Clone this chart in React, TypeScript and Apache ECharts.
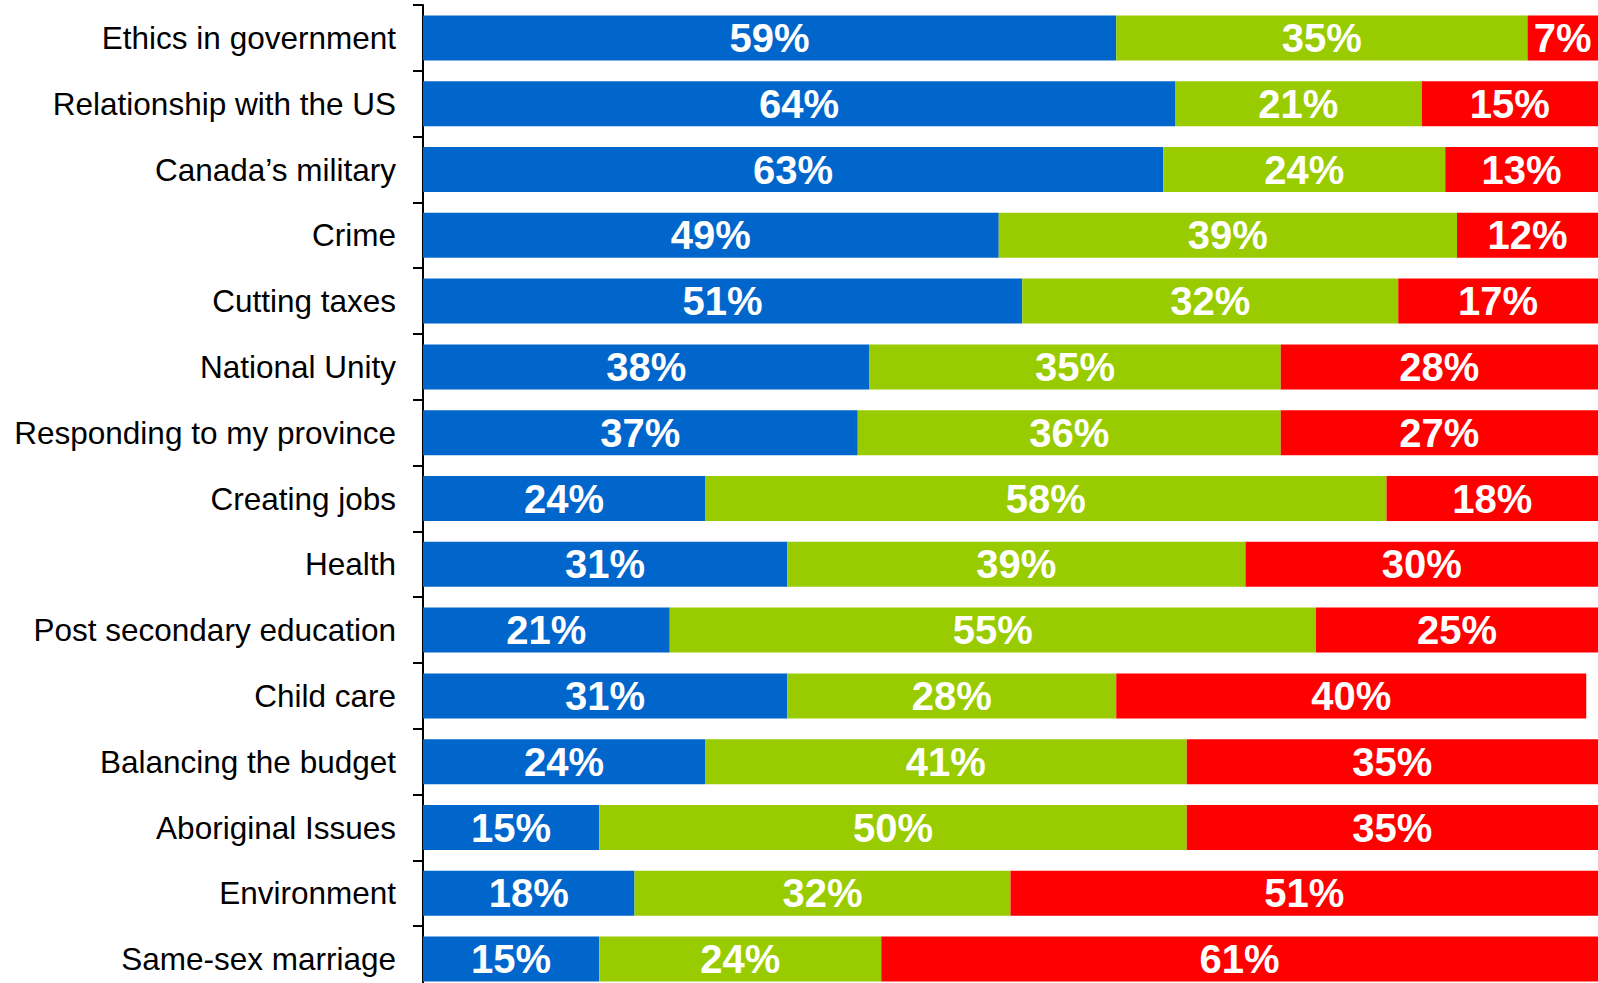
import React, { useEffect, useRef } from "react";
import * as echarts from "echarts";

const categories = [
  "Ethics in government",
  "Relationship with the US",
  "Canada’s military",
  "Crime",
  "Cutting taxes",
  "National Unity",
  "Responding to my province",
  "Creating jobs",
  "Health",
  "Post secondary education",
  "Child care",
  "Balancing the budget",
  "Aboriginal Issues",
  "Environment",
  "Same-sex marriage",
];

const blueValues = [59, 64, 63, 49, 51, 38, 37, 24, 31, 21, 31, 24, 15, 18, 15];
const greenValues = [35, 21, 24, 39, 32, 35, 36, 58, 39, 55, 28, 41, 50, 32, 24];
const redValues = [7, 15, 13, 12, 17, 28, 27, 18, 30, 25, 40, 35, 35, 51, 61];

const FONT = "'Liberation Sans', Arial, Helvetica, sans-serif";

export default function App() {
  const ref = useRef<HTMLDivElement>(null);

  useEffect(() => {
    if (!ref.current) return;
    const chart = echarts.init(ref.current, null, { renderer: "svg" });
    const label = {
      show: true,
      position: "inside",
      formatter: "{c}%",
      color: "#ffffff",
      fontWeight: "bold",
      fontSize: 40,
      fontFamily: FONT,
    };
    chart.setOption({
      animation: false,
      textStyle: { fontFamily: FONT },
      grid: {
        left: 423,
        top: 5,
        width: 1175,
        height: 987,
        containLabel: false,
        outerBoundsMode: "none",
      },
      xAxis: { type: "value", min: 0, max: 100, show: false },
      yAxis: {
        type: "category",
        data: categories,
        inverse: true,
        axisLine: { show: true, lineStyle: { color: "#000", width: 2 } },
        axisTick: { show: true, length: 10, lineStyle: { color: "#000", width: 2 } },
        axisLabel: { color: "#000", fontSize: 31.5, margin: 27, fontFamily: FONT },
        splitLine: { show: false },
      },
      series: [
        { name: "Blue", type: "bar", stack: "total", barWidth: 45, data: blueValues, itemStyle: { color: "#0066CC" }, label },
        { name: "Green", type: "bar", stack: "total", barWidth: 45, data: greenValues, itemStyle: { color: "#99CC00" }, label },
        { name: "Red", type: "bar", stack: "total", barWidth: 45, data: redValues, itemStyle: { color: "#FF0000" }, label },
      ],
    });
    return () => chart.dispose();
  }, []);

  return (
    <div
      ref={ref}
      style={{ position: "absolute", left: 0, top: 0, width: 1598, height: 983, background: "#fff" }}
    />
  );
}
